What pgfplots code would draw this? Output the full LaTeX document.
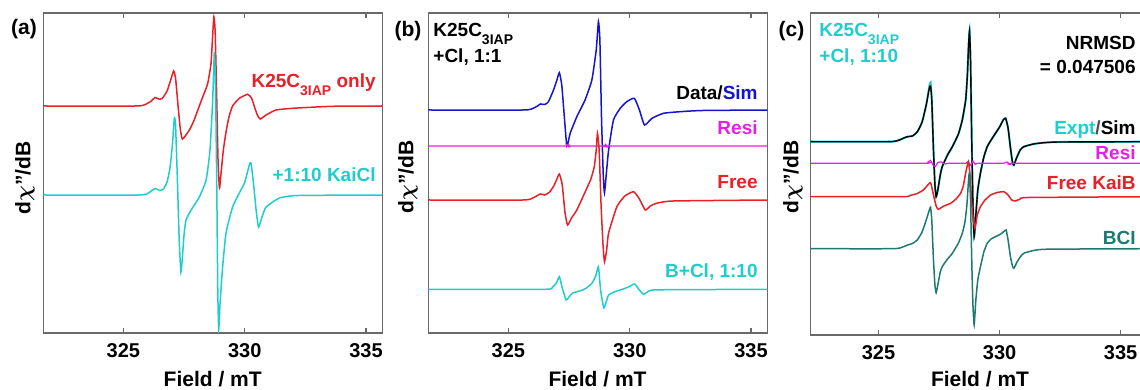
\documentclass[border=0pt]{standalone}
\usepackage{fontspec}
\setmainfont{Liberation Sans}
\usepackage{pgfplots}
\pgfplotsset{compat=1.18}
\definecolor{cred}{RGB}{232,32,40}
\definecolor{ccyan}{RGB}{32,205,205}
\definecolor{cblue}{RGB}{20,20,205}
\definecolor{cmag}{RGB}{228,32,228}
\definecolor{cteal}{RGB}{28,122,112}
\definecolor{frame}{RGB}{105,105,105}
\newcommand\lab{\fontsize{9.5}{11}\selectfont\bfseries}
\newcommand\sub[1]{\raisebox{-4pt}{\fontsize{7}{8}\selectfont #1}}
\pgfplotsset{
  epr/.style={scale only axis, anchor=south west, width=169.5pt,
    xtick={325,330,335}, ytick=\empty, tick align=inside, major tick length=2.5pt,
    axis line style={frame, line width=0.6pt}, every tick/.style={frame, line width=0.6pt},
    ticklabel style={font=\fontsize{10}{12}\selectfont\bfseries},
    /pgf/number format/assume math mode=true,
    xticklabel style={yshift=-1.5pt},
    every axis plot/.append style={line width=0.75pt, smooth, tension=0.3}},
}
\begin{document}
\begin{tikzpicture}
% ---------------- panel (a)
\begin{axis}[epr, at={(21.65pt,28.5pt)}, height=160pt, xmin=321.7, xmax=335.67, ymin=-333, ymax=-13]
\addplot[cred] coordinates {(321.7,-106) (325.5,-106) (325.9,-104.5) (326.15,-101) (326.3,-97.5) (326.45,-99) (326.6,-98.5) (326.8,-91) (326.95,-80) (327.07,-71) (327.15,-78) (327.25,-105) (327.35,-130) (327.43,-139) (327.55,-136) (327.72,-130) (327.9,-121) (328.13,-106) (328.3,-95) (328.47,-84) (328.61,-64) (328.68,-35) (328.73,-17) (328.78,-30) (328.84,-90) (328.9,-160) (328.96,-188) (329.03,-172) (329.12,-150) (329.23,-132) (329.35,-117) (329.5,-106) (329.78,-98.3) (330.12,-94.3) (330.28,-98) (330.4,-106.7) (330.52,-115) (330.64,-119) (330.88,-115) (331.29,-110) (331.98,-108.3) (333.6,-106.3) (335.7,-106)};
\addplot[ccyan] coordinates {(321.7,-195) (325.6,-195) (326.0,-193.5) (326.2,-190) (326.33,-188.5) (326.5,-190.5) (326.65,-189) (326.8,-182) (326.92,-168) (327.02,-145) (327.1,-118) (327.15,-125) (327.22,-175) (327.3,-240) (327.37,-272) (327.43,-258) (327.5,-235) (327.58,-220) (327.79,-210) (328.13,-197) (328.41,-180) (328.57,-150) (328.68,-100) (328.75,-52) (328.8,-90) (328.85,-190) (328.89,-290) (328.93,-330) (328.98,-305) (329.09,-267) (329.23,-233) (329.5,-207) (329.78,-193) (329.99,-183) (330.19,-165) (330.26,-163) (330.37,-185) (330.47,-210) (330.57,-227) (330.7,-218) (330.88,-207) (331.43,-198) (332.2,-195.5) (335.7,-195)};
\end{axis}
% ---------------- panel (b)
\begin{axis}[epr, at={(214.15pt,28.5pt)}, height=160pt, xmin=321.7, xmax=335.67, ymin=-333, ymax=-13]
\addplot[cblue] coordinates {(321.7,-110) (325.6,-110) (326.0,-108.5) (326.2,-106) (326.32,-104) (326.5,-104.5) (326.65,-101.7) (326.86,-90) (327.0,-80) (327.1,-72.7) (327.2,-85) (327.3,-115) (327.41,-146) (327.55,-133) (327.82,-116.7) (328.16,-100) (328.44,-80) (328.62,-50) (328.71,-21.7) (328.77,-40) (328.84,-120) (328.91,-175) (328.96,-192.7) (329.05,-170) (329.13,-150) (329.33,-120) (329.61,-108.3) (329.88,-101.7) (330.19,-98.3) (330.4,-110) (330.61,-125) (330.92,-118.3) (331.39,-113.3) (332.08,-111.7) (333,-110.5) (335.7,-110)};
\addplot[cmag, line width=0.6pt] coordinates {(321.7,-146) (327.3,-146) (327.4,-144.5) (327.5,-147) (327.6,-146) (328.9,-146) (329.0,-144.5) (329.1,-147) (329.2,-146) (335.7,-146)};
\addplot[cred] coordinates {(321.7,-200) (325.6,-200) (326.0,-198) (326.2,-195.5) (326.32,-194) (326.5,-195) (326.7,-192) (326.87,-186) (327.0,-179) (327.1,-174) (327.22,-185) (327.33,-212) (327.44,-225) (327.6,-218) (327.82,-210) (328.2,-190) (328.4,-179) (328.54,-166.7) (328.62,-150) (328.67,-133.3) (328.74,-150) (328.82,-205) (328.9,-245) (328.96,-261.7) (329.05,-250) (329.13,-233) (329.47,-206.7) (329.8,-196) (330.16,-191.7) (330.4,-199) (330.64,-210) (330.85,-206) (331.1,-203.3) (331.8,-201) (335.7,-200)};
\addplot[ccyan] coordinates {(321.7,-289.3) (326.5,-289.3) (326.8,-287.5) (326.98,-283) (327.1,-276.7) (327.22,-288) (327.38,-300) (327.5,-297) (327.65,-293) (328.0,-290.5) (328.2,-288.3) (328.45,-283) (328.6,-276) (328.71,-266.7) (328.8,-290) (328.93,-308) (329.03,-302) (329.13,-295) (329.4,-291.5) (329.61,-290) (329.95,-287) (330.2,-284) (330.4,-290) (330.57,-294.3) (330.8,-291) (331.2,-289.8) (335.7,-289.3)};
\end{axis}
% ---------------- panel (c)
\begin{axis}[epr, at={(405.35pt,27.5pt)}, height=161pt, xmin=322.2, xmax=336.2, ymin=-335, ymax=-13]
\addplot[ccyan, line width=1pt] coordinates {(322.2,-141.7) (325.4,-141.7) (325.8,-140.5) (326.05,-138) (326.19,-136.7) (326.4,-136) (326.6,-132) (326.8,-122) (326.97,-105) (327.1,-86) (327.15,-82.5) (327.2,-100) (327.27,-150) (327.33,-185) (327.38,-196.7) (327.45,-190) (327.55,-175) (327.63,-166.7) (327.85,-155) (328.05,-146.7) (328.3,-134) (328.46,-120) (328.6,-100) (328.67,-75) (328.72,-45) (328.76,-30.7) (328.8,-60) (328.85,-140) (328.9,-205) (328.95,-236.7) (329.02,-215) (329.1,-190) (329.21,-173) (329.35,-157) (329.49,-146.7) (329.65,-140) (329.83,-133.3) (330.0,-127) (330.15,-120) (330.25,-118.3) (330.35,-128) (330.45,-148) (330.53,-162) (330.59,-165) (330.7,-158) (330.85,-150) (331.0,-146.7) (331.4,-144) (331.83,-142.7) (332.5,-142) (336.3,-141.7)};
\addplot[black, line width=0.7pt] coordinates {(322.2,-141.7) (325.4,-141.7) (325.8,-140.5) (326.05,-138) (326.19,-136.7) (326.4,-136) (326.6,-132) (326.8,-122) (326.97,-105) (327.1,-88) (327.15,-86) (327.2,-100) (327.27,-150) (327.33,-185) (327.38,-196.7) (327.45,-190) (327.55,-175) (327.63,-166.7) (327.85,-155) (328.05,-146.7) (328.3,-134) (328.46,-120) (328.6,-100) (328.67,-75) (328.72,-45) (328.76,-30.7) (328.8,-60) (328.85,-140) (328.9,-205) (328.95,-236.7) (329.02,-215) (329.1,-190) (329.21,-173) (329.35,-157) (329.49,-146.7) (329.65,-140) (329.83,-133.3) (330.0,-127) (330.15,-120) (330.25,-118.3) (330.35,-128) (330.45,-148) (330.53,-162) (330.59,-165) (330.7,-158) (330.85,-150) (331.0,-146.7) (331.4,-144) (331.83,-142.7) (332.5,-142) (336.3,-141.7)};
\addplot[cmag, line width=0.6pt] coordinates {(322.2,-163.3) (326.9,-163.3) (327.05,-162) (327.15,-160.5) (327.25,-165) (327.35,-166.5) (327.45,-162.5) (327.6,-162) (327.75,-164) (327.9,-163.3) (328.6,-163.3) (328.7,-161.5) (328.8,-165.5) (328.9,-161) (329.0,-164.5) (329.1,-163.3) (330.15,-163.3) (330.3,-162) (330.45,-164.5) (330.6,-163.3) (336.3,-163.3)};
\addplot[cred] coordinates {(322.2,-196.7) (326.0,-196.7) (326.3,-195.5) (326.6,-193.5) (326.85,-190) (327.0,-186) (327.15,-182.7) (327.27,-195) (327.38,-206) (327.47,-209.3) (327.7,-206) (327.98,-203.3) (328.2,-199) (328.39,-193.3) (328.5,-186) (328.6,-173) (328.71,-161.7) (328.78,-175) (328.87,-210) (328.98,-228.3) (329.08,-215) (329.21,-206.7) (329.4,-200) (329.63,-195) (329.9,-192.5) (330.18,-191.7) (330.35,-195) (330.5,-200) (330.66,-201) (330.85,-199) (331.2,-197.5) (336.3,-196.7)};
\addplot[cteal] coordinates {(322.2,-248.7) (325.6,-248.7) (326.0,-247) (326.2,-245) (326.4,-243.5) (326.6,-240) (326.8,-232) (326.97,-220) (327.1,-210) (327.15,-207.3) (327.2,-220) (327.27,-260) (327.33,-285) (327.38,-292.7) (327.45,-285) (327.55,-272) (327.63,-266.7) (327.85,-259) (328.05,-253.3) (328.3,-243) (328.46,-233.3) (328.57,-222) (328.65,-205) (328.71,-183) (328.75,-173.3) (328.8,-200) (328.85,-260) (328.9,-305) (328.95,-325) (329.02,-300) (329.1,-280) (329.21,-266.7) (329.35,-252) (329.49,-243.3) (329.65,-239) (329.83,-236.7) (330.05,-234) (330.2,-231) (330.27,-230) (330.35,-240) (330.45,-257) (330.53,-266) (330.59,-268.3) (330.7,-263) (330.85,-257) (331.0,-253.3) (331.4,-250.5) (332,-249.2) (336.3,-248.7)};
\end{axis}
% ---------------- texts (pixel units)
\begin{scope}[x=0.5pt,y=0.5pt]
\tikzset{every node/.style={inner sep=0pt, font=\lab}}
% axis labels
\foreach \xc in {212.7,597.5,980}{
  \node[font=\fontsize{10.5}{12}\selectfont\bfseries] at (\xc,11) {Field / mT};
}
\foreach \xc/\yc in {25/212,408/213,793/213}{
  \node[rotate=90, font=\fontsize{10.5}{12}\selectfont\bfseries] at (\xc,\yc) {d{\boldmath$\chi$}\symbol{34}/dB};
}
% panel a
\node[font=\fontsize{10.5}{12}\selectfont\bfseries] at (24,361) {(a)};
\node[anchor=base east, text=cred] at (376,302) {K25C\sub{3IAP} only};
\node[anchor=base east, text=ccyan] at (376,208) {+1:10 KaiCl};
% panel b
\node[font=\fontsize{10.5}{12}\selectfont\bfseries] at (408,359) {(b)};
\node[anchor=base west] at (433,353) {K25C\sub{3IAP}};
\node[anchor=base west] at (433,327) {+Cl, 1:1};
\node[anchor=base east] at (758,290) {Data/\textcolor{cblue}{Sim}};
\node[anchor=base east, text=cmag] at (758,255) {Resi};
\node[anchor=base east, text=cred] at (758,201) {Free};
\node[anchor=base east, text=ccyan] at (758,112) {B+Cl, 1:10};
% panel c
\node[font=\fontsize{10.5}{12}\selectfont\bfseries] at (791.5,358.5) {(c)};
\node[anchor=base west, text=ccyan] at (819,353) {K25C\sub{3IAP}};
\node[anchor=base west, text=ccyan] at (819,327) {+Cl, 1:10};
\node[anchor=base east] at (1136,340) {NRMSD};
\node[anchor=base east] at (1136,316.7) {= 0.047506};
\node[anchor=base east] at (1136,255) {\textcolor{ccyan}{Expt}\textcolor{black!70}{/}Sim};
\node[anchor=base east, text=cmag] at (1136,230.7) {Resi};
\node[anchor=base east, text=cred] at (1136,200.7) {Free KaiB};
\node[anchor=base east, text=cteal] at (1136,145.7) {BCI};
\pgfresetboundingbox
\path[use as bounding box] (0,0) rectangle (1140,390);
\end{scope}
\end{tikzpicture}
\end{document}
